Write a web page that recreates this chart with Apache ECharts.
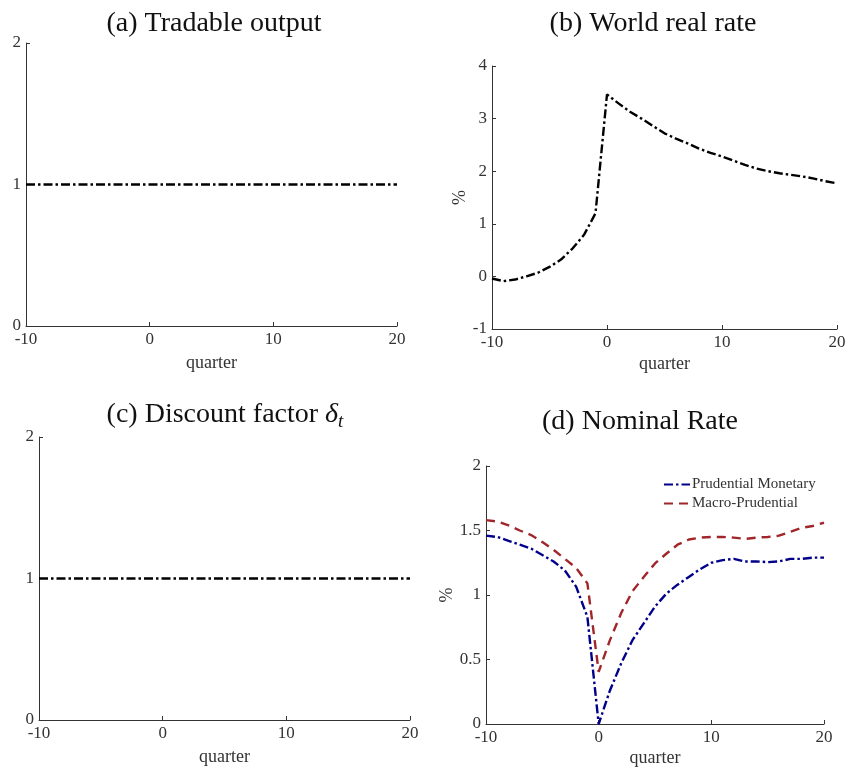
<!DOCTYPE html>
<html>
<head>
<meta charset="UTF-8">
<script src="https://cdn.jsdelivr.net/npm/echarts@6/dist/echarts.min.js"></script>
<style>
  html, body { margin: 0; padding: 0; background: #fff; }
  #chart { width: 849px; height: 771px; }
</style>
</head>
<body>
<div id="chart"></div>
<script type="text/javascript">
// quarters -10..20
var quarters = [-10,-9,-8,-7,-6,-5,-4,-3,-2,-1,0,1,2,3,4,5,6,7,8,9,10,11,12,13,14,15,16,17,18,19,20];

// (a) tradable output, (c) discount factor: flat at 1
var tradableOutput = [1,1,1,1,1,1,1,1,1,1,1,1,1,1,1,1,1,1,1,1,1,1,1,1,1,1,1,1,1,1,1];
var discountFactor = [1,1,1,1,1,1,1,1,1,1,1,1,1,1,1,1,1,1,1,1,1,1,1,1,1,1,1,1,1,1,1];

// (b) world real rate, %
var worldRate = [-0.04,-0.09,-0.06,0.0,0.07,0.18,0.32,0.53,0.79,1.2,
                 3.46,3.29,3.13,3.0,2.86,2.72,2.62,2.53,2.43,2.35,
                 2.28,2.2,2.12,2.05,2.0,1.96,1.93,1.9,1.86,1.81,1.77];

// (d) nominal rate, %
var prudentialMonetary = [1.46,1.45,1.42,1.39,1.36,1.31,1.26,1.19,1.065,0.83,
                          0.0,0.26,0.47,0.65,0.78,0.91,1.01,1.08,1.14,1.2,
                          1.25,1.27,1.28,1.26,1.26,1.255,1.26,1.28,1.28,1.29,1.29];
var macroPrudential = [1.58,1.57,1.54,1.5,1.465,1.41,1.35,1.28,1.21,1.09,
                       0.405,0.65,0.86,1.03,1.14,1.245,1.32,1.39,1.43,1.445,
                       1.45,1.45,1.445,1.435,1.445,1.45,1.46,1.49,1.52,1.535,1.56];

function pairs(ys) {
  var out = [];
  for (var i = 0; i < quarters.length; i++) out.push([quarters[i], ys[i]]);
  return out;
}

var serif = '"Liberation Serif", "DejaVu Serif", serif';
var axisColor = '#333';
var dashDot = [9, 3, 2.5, 3];

function xAxisFor(idx, gap) {
  return {
    type: 'value', gridIndex: idx, min: -10, max: 20, interval: 10,
    name: 'quarter', nameLocation: 'middle', nameGap: gap,
    nameTextStyle: { fontFamily: serif, fontSize: 18, color: axisColor },
    axisLine: { show: true, onZero: false, lineStyle: { color: axisColor, width: 1 } },
    axisTick: { show: true, inside: true, length: 4, lineStyle: { color: axisColor } },
    axisLabel: { fontFamily: serif, fontSize: 17, color: axisColor, margin: 5 },
    splitLine: { show: false }
  };
}

function yAxisFor(idx, min, max, interval, name, gap) {
  return {
    type: 'value', gridIndex: idx, min: min, max: max, interval: interval,
    name: name, nameLocation: 'middle', nameGap: gap,
    nameTextStyle: { fontFamily: serif, fontSize: 18, color: axisColor },
    axisLine: { show: true, onZero: false, lineStyle: { color: axisColor, width: 1 } },
    axisTick: { show: true, inside: true, length: 4, lineStyle: { color: axisColor } },
    axisLabel: { fontFamily: serif, fontSize: 17, color: axisColor, margin: 5 },
    splitLine: { show: false }
  };
}

function lineSeries(name, idx, ys, color, dash) {
  return {
    name: name, type: 'line', xAxisIndex: idx, yAxisIndex: idx,
    data: pairs(ys), symbol: 'none', animation: false,
    lineStyle: { color: color, width: 2.4, type: dash },
    itemStyle: { color: color }
  };
}

var titleStyle = { fontFamily: serif, fontSize: 28, fontWeight: 'normal', color: '#111' };

var chart = echarts.init(document.getElementById('chart'));
var option = {
  backgroundColor: '#fff',
  animation: false,
  title: [
    { text: '(a) Tradable output', left: 209, top: 5, textAlign: 'center', textStyle: titleStyle },
    { text: '(b) World real rate', left: 648, top: 5, textAlign: 'center', textStyle: titleStyle },
    { text: '(c) Discount factor {d|δ}{s|t}', left: 220, top: 394, textAlign: 'center',
      textStyle: Object.assign({}, titleStyle, {
        rich: {
          d: { fontFamily: serif, fontSize: 28, fontStyle: 'italic', color: '#111' },
          s: { fontFamily: serif, fontSize: 19, fontStyle: 'italic', color: '#111', padding: [13, 0, 0, 0] }
        }
      }) },
    { text: '(d) Nominal Rate', left: 635, top: 403, textAlign: 'center', textStyle: titleStyle }
  ],
  legend: {
    left: 658, top: 472, orient: 'vertical', itemGap: 4,
    itemWidth: 26, itemHeight: 12,
    itemStyle: { opacity: 0 },
    textStyle: { fontFamily: serif, fontSize: 15, color: axisColor, padding: [0, 0, 0, -3] },
    data: ['Prudential Monetary', 'Macro-Prudential']
  },
  grid: [
    { left: 26, top: 43, width: 371, height: 283 },
    { left: 492, top: 66, width: 345, height: 263 },
    { left: 39, top: 437, width: 371, height: 283 },
    { left: 486, top: 466, width: 338, height: 258 }
  ],
  xAxis: [xAxisFor(0, 28), xAxisFor(1, 26), xAxisFor(2, 28), xAxisFor(3, 25)],
  yAxis: [
    yAxisFor(0, 0, 2, 1, '', 30),
    yAxisFor(1, -1, 4, 1, '%', 23),
    yAxisFor(2, 0, 2, 1, '', 30),
    yAxisFor(3, 0, 2, 0.5, '%', 30)
  ],
  series: [
    lineSeries('Tradable output', 0, tradableOutput, '#000', dashDot),
    lineSeries('World real rate', 1, worldRate, '#000', dashDot),
    lineSeries('Discount factor', 2, discountFactor, '#000', dashDot),
    lineSeries('Prudential Monetary', 3, prudentialMonetary, '#00008b', dashDot),
    lineSeries('Macro-Prudential', 3, macroPrudential, '#a0262b', [9, 6])
  ]
};
chart.setOption(option);
</script>
</body>
</html>
